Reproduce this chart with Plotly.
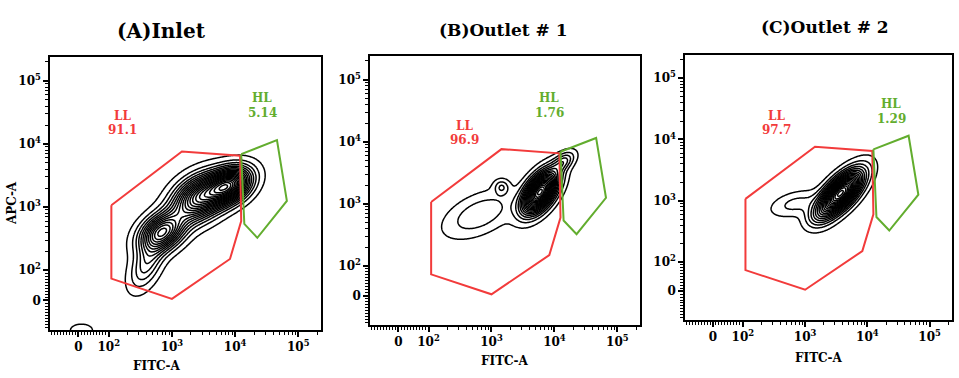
import numpy as np
import plotly.graph_objects as go

W, H = 959, 378

# ---- data (FITC-A / APC-A in fluorescence units, spreads in decades) ----
panel_titles = ["(A)Inlet", "(B)Outlet # 1", "(C)Outlet # 2"]
ll_values = ["91.1", "96.9", "97.7"]
hl_values = ["5.14", "1.76", "1.29"]

# gates (identical template in every panel)
ll_gate_fitc = [110, 1440, 12000, 12500, 8300, 1000, 110, 110]
ll_gate_apc = [1070, 7600, 6500, 600, 150, 5, 72, 1070]
hl_gate_fitc = [12500, 46000, 66000, 22500, 14000, 12500]
hl_gate_apc = [6900, 11500, 1250, 325, 540, 6900]

# event clusters: centre, spread (major/minor), tilt, weight
inlet_fitc = [8000, 2700, 700, 400, 10]
inlet_apc = [2200, 1400, 400, 125, -98]
inlet_sd_major = [0.24, 0.3, 0.25, 0.28, 0.13]
inlet_sd_minor = [0.16, 0.2, 0.17, 0.14, 0.07]
inlet_angle = [30, 35, 35, 65, 0]
inlet_weight = [1.0, 0.85, 0.75, 0.25, 0.09]

out1_fitc = [5900, 650, 1450, 14000]
out1_apc = [1550, 680, 1860, 4800]
out1_sd_major = [0.25, 0.38, 0.08, 0.14]
out1_sd_minor = [0.13, 0.19, 0.08, 0.08]
out1_angle = [55, 25, 0, 40]
out1_weight = [1.0, 0.13, 0.12, 0.18]

out2_fitc = [3700, 700, 1600]
out2_apc = [1320, 890, 560]
out2_sd_major = [0.3, 0.26, 0.15]
out2_sd_minor = [0.13, 0.12, 0.12]
out2_angle = [47, 15, 20]
out2_weight = [1.0, 0.1, 0.08]

tick_values = [0, 100, 1000, 10000, 100000]
tick_labels = ["0", "10<sup>2</sup>", "10<sup>3</sup>", "10<sup>4</sup>", "10<sup>5</sup>"]


def biex(v):
    """simple biexponential-like display transform (log above 100, linear below)"""
    v = np.asarray(v, dtype=float)
    return np.where(v >= 100, np.log10(np.maximum(v, 100)), 1.52 + 0.48 * v / 100)


def density(fitc, apc, sd1, sd2, ang, wt, gx, gy):
    X, Y = np.meshgrid(gx, gy)
    z = np.zeros_like(X)
    for cx, cy, a, b, t, w in zip(biex(fitc), biex(apc), sd1, sd2, ang, wt):
        th = np.radians(t)
        dx, dy = X - cx, Y - cy
        u = dx * np.cos(th) + dy * np.sin(th)
        v = -dx * np.sin(th) + dy * np.cos(th)
        z += w * np.exp(-0.5 * ((u / a) ** 2 + (v / b) ** 2))
    return z / z.max()


XR = [1.07, 5.36]
YR = [1.05, 5.38]
gx = np.linspace(XR[0], XR[1], 320)
gy = np.linspace(YR[0], YR[1], 320)

clusters = [
    (inlet_fitc, inlet_apc, inlet_sd_major, inlet_sd_minor, inlet_angle, inlet_weight),
    (out1_fitc, out1_apc, out1_sd_major, out1_sd_minor, out1_angle, out1_weight),
    (out2_fitc, out2_apc, out2_sd_major, out2_sd_minor, out2_angle, out2_weight),
]

# pixel frames of the three plots: left, right, top, bottom
frames = [(50, 321, 57, 330), (370, 640, 56, 325), (685, 952, 55, 320)]
title_pos = [(161, 31, 20), (503, 30, 17), (825, 27, 17)]
xtitle_pos = [(157, 366), (505, 361), (819, 358)]
ll_pos = [(122, 116), (464, 126), (776, 116)]
hl_pos = [(262, 98), (549, 98), (891, 104)]

RED = "#f23b3b"
GREEN = "#62ad2e"
FONT = "DejaVu Serif"


def px(x, y):
    return x / W, 1 - y / H


# minor ticks: decades plus the linear region round zero
minor_vals = [biex(k * 10 ** n) for n in range(2, 6) for k in range(2, 10)]
minor_vals += [biex(v) for v in range(-90, 100, 10) if v != 0]
minor_vals = [float(m) for m in minor_vals if m < 5.36]

fig = go.Figure()
annotations = []


def label(text, x, y, size, color="black", **kw):
    annotations.append(dict(text=f"<b>{text}</b>", x=px(x, y)[0], y=px(x, y)[1],
                            font=dict(family=FONT, size=size, color=color), **kw))


for i in range(3):
    xa = "x" if i == 0 else f"x{i + 1}"
    ya = "y" if i == 0 else f"y{i + 1}"
    z = density(*clusters[i], gx, gy)
    fig.add_trace(go.Contour(
        x=gx, y=gy, z=z, xaxis=xa, yaxis=ya,
        contours=dict(coloring="lines", start=0.03, end=0.98, size=0.05),
        colorscale=[[0, "black"], [1, "black"]], showscale=False,
        line=dict(width=1.5, smoothing=1), hoverinfo="skip"
    ))
    fig.add_trace(go.Scatter(
        x=biex(ll_gate_fitc), y=biex(ll_gate_apc), xaxis=xa, yaxis=ya,
        mode="lines", line=dict(color=RED, width=2), hoverinfo="skip"
    ))
    fig.add_trace(go.Scatter(
        x=biex(hl_gate_fitc), y=biex(hl_gate_apc), xaxis=xa, yaxis=ya,
        mode="lines", line=dict(color=GREEN, width=2), hoverinfo="skip"
    ))

    l, r, t, b = frames[i]
    ax = dict(
        domain=[l / W, r / W], range=XR, anchor=ya,
        tickmode="array", tickvals=biex(tick_values).tolist(), ticktext=tick_labels,
        ticks="outside", ticklen=5, tickwidth=1.5, tickcolor="black",
        showline=True, linecolor="black", linewidth=1.5, mirror=True,
        showgrid=False, zeroline=False,
        tickfont=dict(family=FONT, size=12, color="black", weight="bold"),
        minor=dict(tickmode="array", tickvals=minor_vals, ticks="outside",
                   ticklen=3, tickcolor="black", tickwidth=1),
    )
    ay = dict(ax)
    ay.update(domain=[1 - b / H, 1 - t / H], range=YR, anchor=xa)
    fig.update_layout({("xaxis" if i == 0 else f"xaxis{i + 1}"): ax,
                       ("yaxis" if i == 0 else f"yaxis{i + 1}"): ay})

    tx, ty, ts = title_pos[i]
    label(panel_titles[i], tx, ty, ts)
    label("FITC-A", *xtitle_pos[i], 12)
    lx, ly = ll_pos[i]
    label("LL", lx, ly, 12, RED)
    label(ll_values[i], lx, ly + 14, 12, RED)
    hx, hy = hl_pos[i]
    label("HL", hx, hy, 12, GREEN)
    label(hl_values[i], hx, hy + 15, 12, GREEN)

label("APC-A", 12, 203, 12, textangle=-90)
for a in annotations:
    a.update(xref="paper", yref="paper", showarrow=False, xanchor="center", yanchor="middle")

fig.update_layout(
    width=W, height=H,
    margin=dict(l=0, r=0, t=0, b=0),
    paper_bgcolor="white", plot_bgcolor="white",
    showlegend=False,
    annotations=annotations,
)

# drop the browser's default 8px page margin so the figure fills the window
fig.write_html("out.html", config={"displayModeBar": False},
               post_script="document.body.style.margin='0px';")
